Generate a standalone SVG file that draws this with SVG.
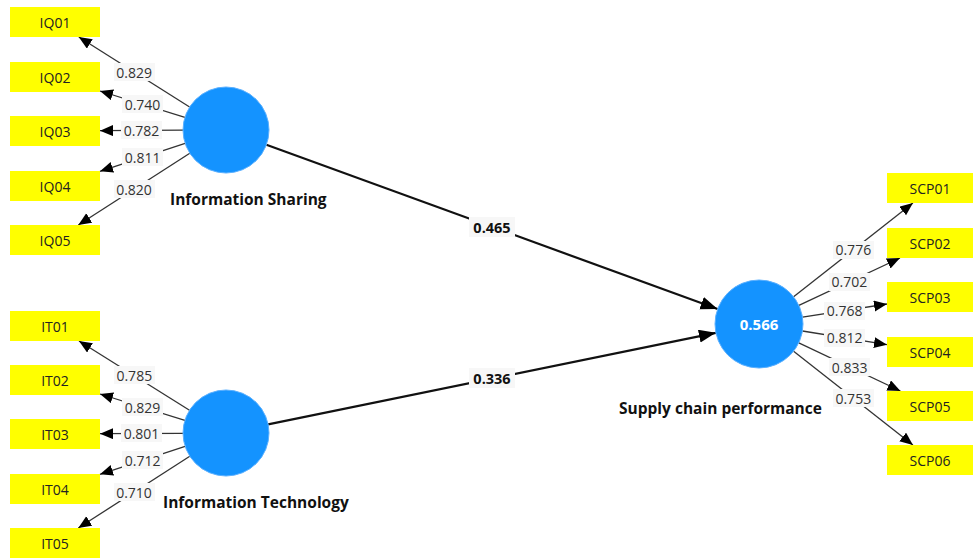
<svg xmlns="http://www.w3.org/2000/svg" width="973" height="558" viewBox="0 0 973 558">
<style>
.ind rect{fill:#ffff00}
.ind text{font-family:"Open Sans","Liberation Sans",sans-serif;font-size:14px;fill:#222;text-anchor:middle;dominant-baseline:central}
.lv circle{fill:#1493ff;stroke:#5ab0ff;stroke-width:1}
.lvname{font-family:"Open Sans","Liberation Sans",sans-serif;font-size:15.5px;font-weight:bold;fill:#111}
.r2{font-family:"Open Sans","Liberation Sans",sans-serif;font-size:15px;font-weight:bold;fill:#fff;text-anchor:middle;dominant-baseline:central}
.ld{stroke:#333;stroke-width:1.3;fill:none;marker-end:url(#ah)}
.pc{stroke:#111;stroke-width:2.2;fill:none;marker-end:url(#ahb)}
.lb rect{fill:#f7f7f7}
.lb text{font-family:"Open Sans","Liberation Sans",sans-serif;font-size:14px;fill:#333;text-anchor:middle;dominant-baseline:central}
.pl rect{fill:#f7f7f7}
.pl text{font-family:"Open Sans","Liberation Sans",sans-serif;font-size:14.5px;font-weight:bold;fill:#111;text-anchor:middle;dominant-baseline:central}
</style>
<defs>
<marker id="ah" markerUnits="userSpaceOnUse" markerWidth="14" markerHeight="12" refX="13" refY="5.5" orient="auto" viewBox="0 0 14 12">
<path d="M0,0 L13,5.5 L0,11 Z" fill="#000"/>
</marker>
<marker id="ahb" markerUnits="userSpaceOnUse" markerWidth="18" markerHeight="14" refX="17" refY="6.5" orient="auto" viewBox="0 0 18 14">
<path d="M0,0 L17,6.5 L0,13 Z" fill="#000"/>
</marker>
</defs>
<rect width="973" height="558" fill="#fff"/>

<g id="connectors">
<line class="pc" x1="266.4" y1="144.7" x2="717.6" y2="309"/>
<line class="pc" x1="268.1" y1="424.4" x2="715.9" y2="332.8"/>
<line class="ld" x1="189.6" y1="107" x2="78.8" y2="37"/>
<line class="ld" x1="184.9" y1="117.3" x2="100" y2="91"/>
<line class="ld" x1="183" y1="130.2" x2="100" y2="130.7"/>
<line class="ld" x1="185.1" y1="143.4" x2="100" y2="171.3"/>
<line class="ld" x1="189.8" y1="153.3" x2="78.3" y2="225"/>
<line class="ld" x1="189.5" y1="410.2" x2="79" y2="341"/>
<line class="ld" x1="184.9" y1="420.3" x2="100" y2="394"/>
<line class="ld" x1="183" y1="433.3" x2="100" y2="433.7"/>
<line class="ld" x1="185.1" y1="446.4" x2="100" y2="474.3"/>
<line class="ld" x1="189.8" y1="456.3" x2="78.3" y2="528"/>
<line class="ld" x1="793.6" y1="296.8" x2="912.9" y2="203"/>
<line class="ld" x1="798.9" y1="305.3" x2="900" y2="258"/>
<line class="ld" x1="802.5" y1="317.2" x2="887" y2="304"/>
<line class="ld" x1="802.4" y1="331" x2="887" y2="344.7"/>
<line class="ld" x1="798.8" y1="342.9" x2="900.4" y2="391"/>
<line class="ld" x1="793.6" y1="351.2" x2="912.9" y2="445"/>
<g class="pl">
<rect x="469" y="217" width="46" height="20"/><text x="492" y="227">0.465</text>
<rect x="469" y="368" width="46" height="20"/><text x="492" y="378.5">0.336</text>
</g>
<g class="lb">
<rect x="114" y="63" width="41" height="18"/><text x="134.2" y="72">0.829</text>
<rect x="122" y="95" width="41" height="18"/><text x="142.5" y="104.5">0.740</text>
<rect x="121" y="121" width="41" height="18"/><text x="141.5" y="130.5">0.782</text>
<rect x="122" y="148" width="41" height="18"/><text x="142.6" y="157.3">0.811</text>
<rect x="114" y="180" width="41" height="18"/><text x="134" y="189.1">0.820</text>
<rect x="114" y="366" width="41" height="18"/><text x="134.3" y="375.6">0.785</text>
<rect x="122" y="398" width="41" height="18"/><text x="142.5" y="407.1">0.829</text>
<rect x="121" y="424" width="41" height="18"/><text x="141.5" y="433.5">0.801</text>
<rect x="122" y="451" width="41" height="18"/><text x="142.6" y="460.3">0.712</text>
<rect x="114" y="483" width="41" height="18"/><text x="134" y="492.1">0.710</text>
<rect x="833" y="241" width="41" height="18"/><text x="853.3" y="249.9">0.776</text>
<rect x="829" y="273" width="41" height="18"/><text x="849.4" y="281.7">0.702</text>
<rect x="824" y="302" width="41" height="18"/><text x="844.7" y="310.6">0.768</text>
<rect x="824" y="329" width="41" height="18"/><text x="844.7" y="337.9">0.812</text>
<rect x="829" y="358" width="41" height="18"/><text x="849.6" y="367">0.833</text>
<rect x="833" y="389" width="41" height="18"/><text x="853.3" y="398.1">0.753</text>
</g>
</g>

<g id="IS" class="lv"><circle cx="226" cy="130" r="43"/><text class="lvname" x="170" y="205">Information Sharing</text></g>
<g id="IT" class="lv"><circle cx="226" cy="433" r="43"/><text class="lvname" x="163" y="508">Information Technology</text></g>
<g id="SCP" class="lv"><circle cx="759" cy="324" r="44"/><text class="r2" x="759" y="324">0.566</text><text class="lvname" x="619" y="414">Supply chain performance</text></g>

<g id="IQ01" class="ind"><rect x="10" y="7" width="90" height="30"/><text x="55" y="22">IQ01</text></g>
<g id="IQ02" class="ind"><rect x="10" y="62" width="90" height="30"/><text x="55" y="77">IQ02</text></g>
<g id="IQ03" class="ind"><rect x="10" y="116" width="90" height="30"/><text x="55" y="131">IQ03</text></g>
<g id="IQ04" class="ind"><rect x="10" y="171" width="90" height="30"/><text x="55" y="186">IQ04</text></g>
<g id="IQ05" class="ind"><rect x="10" y="225" width="90" height="30"/><text x="55" y="240">IQ05</text></g>
<g id="IT01" class="ind"><rect x="10" y="311" width="90" height="30"/><text x="55" y="326">IT01</text></g>
<g id="IT02" class="ind"><rect x="10" y="365" width="90" height="30"/><text x="55" y="380">IT02</text></g>
<g id="IT03" class="ind"><rect x="10" y="419" width="90" height="30"/><text x="55" y="434">IT03</text></g>
<g id="IT04" class="ind"><rect x="10" y="474" width="90" height="30"/><text x="55" y="489">IT04</text></g>
<g id="IT05" class="ind"><rect x="10" y="528" width="90" height="30"/><text x="55" y="543">IT05</text></g>
<g id="SCP01" class="ind"><rect x="887" y="173" width="86" height="30"/><text x="930" y="188">SCP01</text></g>
<g id="SCP02" class="ind"><rect x="887" y="228" width="86" height="30"/><text x="930" y="243">SCP02</text></g>
<g id="SCP03" class="ind"><rect x="887" y="282" width="86" height="30"/><text x="930" y="297">SCP03</text></g>
<g id="SCP04" class="ind"><rect x="887" y="337" width="86" height="30"/><text x="930" y="352">SCP04</text></g>
<g id="SCP05" class="ind"><rect x="887" y="391" width="86" height="30"/><text x="930" y="406">SCP05</text></g>
<g id="SCP06" class="ind"><rect x="887" y="445" width="86" height="30"/><text x="930" y="460">SCP06</text></g>
</svg>
